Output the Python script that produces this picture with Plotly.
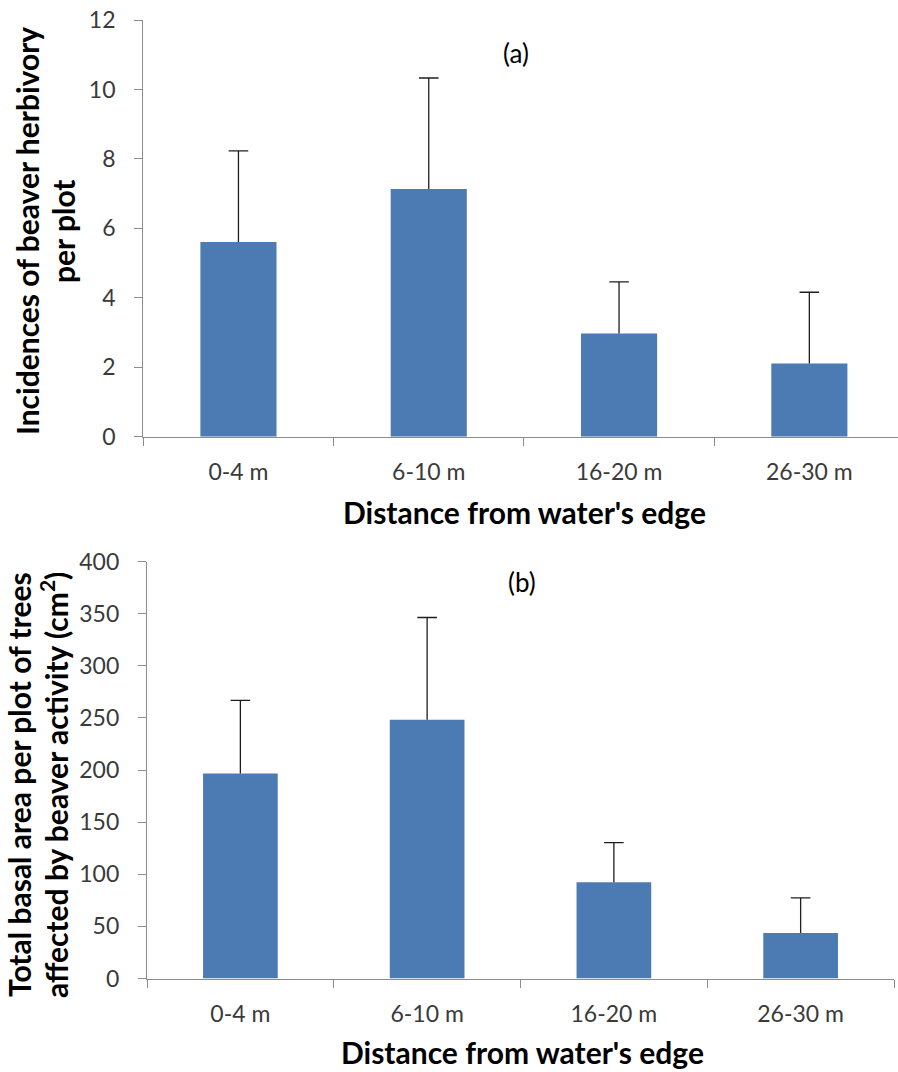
import plotly.graph_objects as go

W, H = 898, 1072

categories = ["0-4 m", "6-10 m", "16-20 m", "26-30 m"]

# panel (a): incidences of beaver herbivory per plot
herb_mean = [5.61, 7.13, 2.97, 2.11]
herb_err = [2.62, 3.20, 1.49, 2.05]

# panel (b): total basal area per plot of trees affected (cm2)
basal_mean = [196.7, 248.1, 92.4, 43.6]
basal_err = [70.0, 98.2, 38.0, 33.8]

y_ticks_a = [0, 2, 4, 6, 8, 10, 12]
y_ticks_b = [0, 50, 100, 150, 200, 250, 300, 350, 400]

BAR = "#4C7BB4"
AX = "#8C8C8C"
TXT = "#3A3A3A"
FONT = "Lato"
ERR = "#1E1E1E"


def px(x):
    return x / W


def py(y):
    return 1 - y / H


fig = go.Figure()


def add_panel(means, errs, xa, ya):
    fig.add_trace(go.Bar(
        x=categories, y=means, width=0.4,
        marker=dict(color=BAR, line=dict(width=0)),
        error_y=dict(type="data", symmetric=False, array=errs,
                     arrayminus=[0] * len(errs), color=ERR,
                     thickness=1.3, width=0),
        xaxis=xa, yaxis=ya, showlegend=False, hoverinfo="skip"))
    tops = [m + e for m, e in zip(means, errs)]
    fig.add_trace(go.Scatter(
        x=categories, y=tops, mode="markers",
        marker=dict(symbol="line-ew", size=14,
                    line=dict(color=ERR, width=1.3)),
        xaxis=xa, yaxis=ya, showlegend=False, hoverinfo="skip"))


add_panel(herb_mean, herb_err, "x", "y")
add_panel(basal_mean, basal_err, "x2", "y2")

tickfont = dict(family=FONT, size=23, color=TXT)
common_x = dict(type="category", tickson="boundaries", ticks="outside",
                ticklen=8, tickcolor=AX, tickwidth=1.3, showline=True,
                linecolor=AX, linewidth=1.3, showgrid=False,
                zeroline=False, tickfont=tickfont, ticklabelstandoff=15,
                automargin=False, fixedrange=True)
common_y = dict(ticks="outside", ticklen=8, tickcolor=AX, tickwidth=1.3,
                showline=True, linecolor=AX, linewidth=1.3, showgrid=False,
                zeroline=False, tickfont=tickfont, ticklabelstandoff=14,
                automargin=False, fixedrange=True)

top_left, top_step = 143.3, 190.3
fig.update_layout(
    width=W, height=H,
    margin=dict(l=0, r=0, t=0, b=0, autoexpand=False),
    paper_bgcolor="white", plot_bgcolor="white",
    bargap=0.6,
    xaxis=dict(common_x, domain=[px(top_left), 1.0],
               range=[-0.5, -0.5 + (W - top_left) / top_step],
               anchor="y"),
    yaxis=dict(common_y, domain=[py(436.7), py(20)], range=[0, 12],
               tickvals=y_ticks_a, anchor="x"),
    xaxis2=dict(common_x, domain=[px(147), px(894)], range=[-0.5, 3.5],
                anchor="y2"),
    yaxis2=dict(common_y, domain=[py(978.5), py(561.5)], range=[0, 400],
                tickvals=y_ticks_b, anchor="x2"),
)

title_font = dict(family=FONT, size=30, color="black")
label_font = dict(family=FONT, size=26, color="black")

annotations = [
    # panel letters
    dict(text="(a)", x=px(516), y=py(53), font=label_font),
    dict(text="(b)", x=px(522), y=py(582), font=label_font),
    # x titles
    dict(text="<b>Distance from water's edge</b>", x=px(524.5), y=py(512),
         font=title_font),
    dict(text="<b>Distance from water's edge</b>", x=px(522), y=py(1052),
         font=title_font),
    # y titles (a)
    dict(text="<b>Incidences of beaver herbivory</b>", x=px(27), y=py(231),
         textangle=-90, font=title_font),
    dict(text="<b>per plot</b>", x=px(63), y=py(231), textangle=-90,
         font=title_font),
    # y titles (b)
    dict(text="<b>Total basal area per plot of trees</b>", x=px(19),
         y=py(785), textangle=-90, font=title_font),
    dict(text="<b>affected by beaver activity (cm<sup>2</sup>)</b>",
         x=px(54), y=py(785), textangle=-90, font=title_font),
]
for a in annotations:
    a.update(xref="paper", yref="paper", showarrow=False,
             xanchor="center", yanchor="middle")
fig.update_layout(annotations=annotations)

fig.write_html(
    "out.html",
    config={"displayModeBar": False},
    post_script="document.body.style.margin='0';"
                "document.body.style.overflow='hidden';",
)
